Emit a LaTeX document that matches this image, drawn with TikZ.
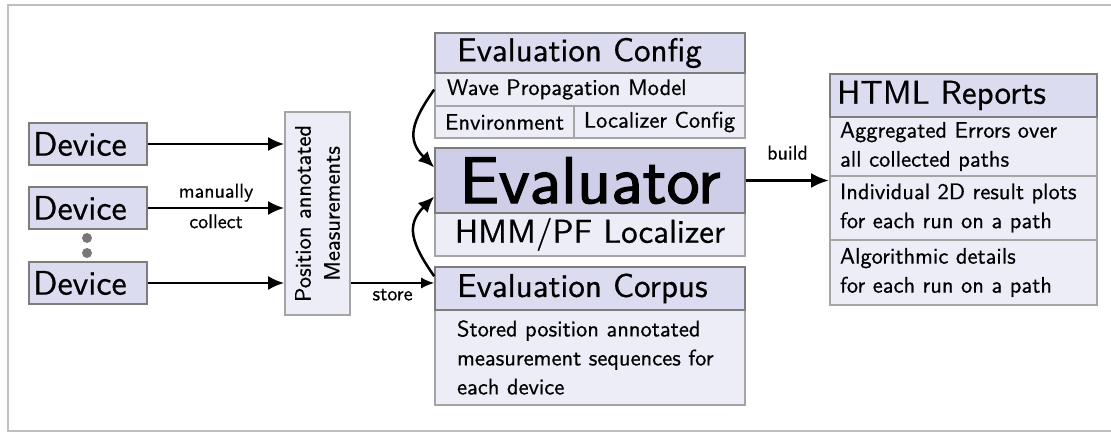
\documentclass[tikz,border=0pt]{standalone}
\usepackage{fontspec}
\setsansfont{lmsans10-regular.otf}[FakeBold=0.6]
\usetikzlibrary{arrows.meta,positioning}

\definecolor{headfill}{RGB}{220,220,240}
\definecolor{bodyfill}{RGB}{237,237,248}
\definecolor{corefill}{RGB}{206,206,233}
\definecolor{boxgray}{RGB}{165,165,165}
\definecolor{headgray}{RGB}{125,125,125}
\definecolor{framegray}{RGB}{192,192,192}
\definecolor{dotgray}{RGB}{120,120,120}

\newcommand{\hugesz}{\fontsize{66}{70}\selectfont\addfontfeatures{FakeBold=2}}
\newcommand{\devsz}{\fontsize{34}{40}\selectfont}
\newcommand{\headsz}{\fontsize{33}{38}\selectfont}
\newcommand{\textsz}{\fontsize{22.5}{29}\selectfont}
\newcommand{\labelsz}{\fontsize{20}{24}\selectfont}

\tikzset{
    box/.style={draw=boxgray, line width=1.6pt, fill=bodyfill, inner sep=0pt, font=\sffamily\textsz},
    head/.style={box, draw=headgray, fill=headfill, font=\sffamily\headsz},
    lbl/.style={font=\sffamily\labelsz, inner sep=5pt},
    arr/.style={-{Latex[length=16pt,width=14pt]}, line width=2.5pt},
    dot/.style={circle, fill=dotgray, inner sep=0pt, minimum size=10pt},
}

\begin{document}
\begin{tikzpicture}[x=1pt,y=1pt]
    \useasboundingbox (0,0) rectangle (1111,433);
    \draw[framegray, line width=2pt] (1111,428) -- (8,428) -- (8,1.5) -- (1111,1.5);

    % devices and the measurement box (rotated: north is its left side)
    \foreach \y [count=\i from 1] in {289,225,150} {\node[head, font=\sffamily\devsz, minimum width=118pt, minimum height=42pt, text width=110pt, align=left] (dev\i) at (88,\y) {Device};}
    \node[dot] (dotA) at (87,195) {};
    \node[dot] (dotB) at (87,180) {};
    \node[box, rotate=90, align=center, minimum width=203pt, minimum height=65pt] (meas) at (317.5,219.5) {Position annotated\\Measurements};

    % config, evaluator, corpus
    \node[box, minimum width=310pt, minimum height=33pt, text width=286pt, align=left] (cfgwave) at (590,343.5) {Wave Propagation Model};
    \node[box, minimum width=139pt, minimum height=32pt] (cfgenv) at (504.5,311) {Environment};
    \node[box, minimum width=171pt, minimum height=32pt] (cfgloc) at (659.5,311) {Localizer Config};
    \node[head, minimum width=310pt, minimum height=40pt, text width=266pt, align=left] (cfghead) at (590,380) {Evaluation Config};
    \node[box, font=\sffamily\headsz, minimum width=310pt, minimum height=43pt] (hmm) at (590,198.5) {HMM/PF Localizer};
    \node[head, fill=corefill, font=\sffamily\hugesz, minimum width=310pt, minimum height=65pt] (eval) at (590,252.5) {Evaluator};
    \node[box, minimum width=310pt, minimum height=95pt, text width=266pt, align=left] (corpusbody) at (590,75.5) {Stored position annotated\\measurement sequences for\\each device};
    \node[head, minimum width=310pt, minimum height=43pt, text width=266pt, align=left] (corpushead) at (590,144.5) {Evaluation Corpus};

    % reports
    \node[box, minimum width=267pt, minimum height=59pt, text width=247pt, align=left] (htmlA) at (963.5,286.5) {Aggregated Errors over\\all collected paths};
    \node[box, minimum width=267pt, minimum height=64pt, text width=247pt, align=left] (htmlB) at (963.5,225) {Individual 2D result plots\\for each run on a path};
    \node[box, minimum width=267pt, minimum height=65pt, text width=247pt, align=left] (htmlC) at (963.5,160.5) {Algorithmic details\\for each run on a path};
    \node[head, minimum width=267pt, minimum height=43pt, text width=253pt, align=left] (htmlhead) at (963.5,337.5) {HTML Reports};

    \foreach \i in {1,3} {\draw[arr] (dev\i) -- (dev\i -| meas.north);}
    \draw[arr] (dev2) -- (dev2 -| meas.north) node[lbl, midway, above] {manually} node[lbl, midway, below] {collect};
    \draw[arr, line width=1.8pt, -{Latex[length=13pt,width=11pt]}] (meas.south |- dev3) -- (corpushead.west |- dev3) node[lbl, midway, below] {store};
    \draw[arr, line width=3.5pt, -{Latex[length=18pt,width=15pt]}] (eval.east) -- (eval.east -| htmlhead.west) node[lbl, midway, above=14pt] {build};
    \draw[arr] (cfgwave.west) to[out=235, in=135, looseness=1.3] ([yshift=13pt]eval.west);
    \draw[arr] ([yshift=-10pt]corpushead.north west) to[out=125, in=225, looseness=1.3] ([yshift=-16pt]eval.west);
\end{tikzpicture}
\end{document}
